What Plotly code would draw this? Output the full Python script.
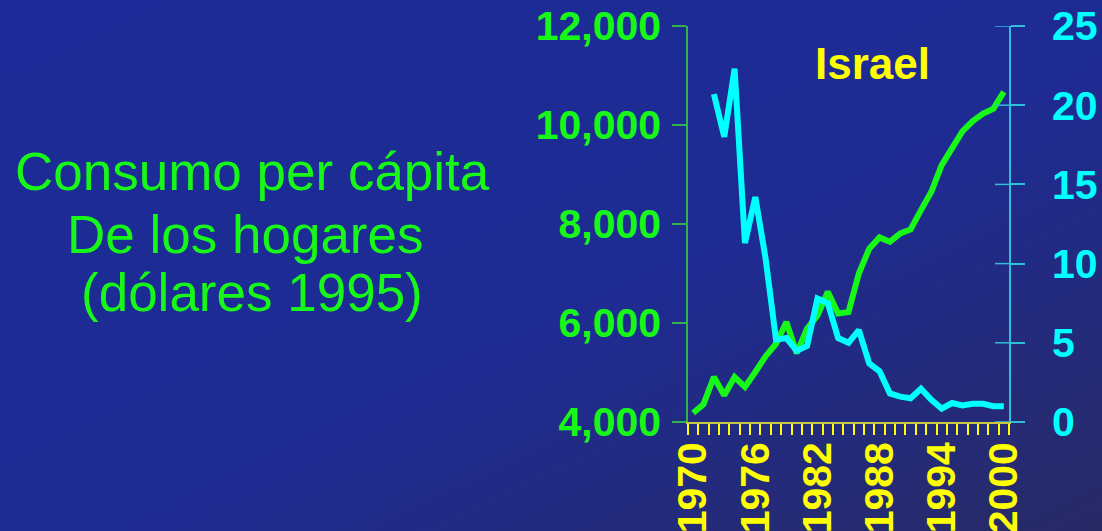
import base64
import plotly.graph_objects as go

# ---- data ----
years = list(range(1970, 2001))
consumo = [4180, 4360, 4910, 4540, 4910, 4710, 5010, 5330, 5580, 6020,
           5390, 5890, 6150, 6630, 6190, 6220, 7000, 7500, 7730, 7640,
           7810, 7890, 8280, 8650, 9190, 9520, 9870, 10080, 10230, 10330,
           10670]
years_inf = list(range(1972, 2001))
inflacion = [20.7, 18.0, 22.3, 11.3, 14.2, 10.3, 5.2, 5.3, 4.5, 4.8,
             7.8, 7.5, 5.3, 5.0, 5.8, 3.7, 3.2, 1.8, 1.6, 1.5,
             2.1, 1.4, 0.85, 1.2, 1.05, 1.15, 1.15, 1.0, 1.0]
left_ticks = [4000, 6000, 8000, 10000, 12000]
right_ticks = [0, 5, 10, 15, 20, 25]
year_labels = [1970, 1976, 1982, 1988, 1994, 2000]
year_bounds = [y - 0.5 for y in range(1970, 2002)]

title_lines = ["Consumo per cápita", "De los hogares", "(dólares 1995)"]
country = "Israel"

# ---- page geometry (pixels) ----
W, H = 1102, 531
L, R, T, B = 688, 1009, 26, 422
PW, PH = R - L, B - T


def px(xp):
    return (xp - L) / PW


def py(yp):
    return (B - yp) / PH


FONT = "Liberation Sans, Arial, sans-serif"
GREEN = "#18f818"
CYAN = "#00ffff"
YELLOW = "#ffff00"

# diagonal background gradient
svg = (
    '<svg xmlns="http://www.w3.org/2000/svg" width="1102" height="531" '
    'preserveAspectRatio="none">'
    '<defs><linearGradient id="g" x1="0" y1="0" x2="1" y2="1">'
    '<stop offset="0" stop-color="#1c2b98"/>'
    '<stop offset="0.55" stop-color="#1e2b93"/>'
    '<stop offset="1" stop-color="#282a66"/>'
    '</linearGradient></defs>'
    '<rect width="1102" height="531" fill="url(#g)"/></svg>'
)
bg_src = "data:image/svg+xml;base64," + base64.b64encode(svg.encode()).decode()

fig = go.Figure()
fig.add_trace(go.Scatter(x=years, y=consumo, mode="lines",
                         line=dict(color=GREEN, width=6),
                         yaxis="y", showlegend=False, hoverinfo="skip"))
fig.add_trace(go.Scatter(x=years_inf, y=inflacion, mode="lines",
                         line=dict(color=CYAN, width=6),
                         yaxis="y2", showlegend=False, hoverinfo="skip"))

# inner half of the crossing ticks on the right axis
shapes = []
for v in right_ticks:
    shapes.append(dict(type="line", xref="paper", yref="y2",
                       x0=1 - 14 / PW, x1=1, y0=v, y1=v,
                       line=dict(color="#2cc0d8", width=1.5)))

annotations = []
for text, cx, cy in zip(title_lines, [252, 245, 252], [171, 234, 292]):
    annotations.append(dict(text=text, xref="paper", yref="paper",
                            x=px(cx), y=py(cy), xanchor="center",
                            yanchor="middle", showarrow=False,
                            font=dict(family=FONT, size=53, color=GREEN)))
annotations.append(dict(text=country, xref="paper", yref="paper",
                        x=px(872), y=py(63), xanchor="center",
                        yanchor="middle", showarrow=False,
                        font=dict(family=FONT, size=44, color=YELLOW,
                                  weight="bold")))

fig.update_layout(
    width=W, height=H,
    margin=dict(l=L, r=W - R, t=T, b=H - B, pad=0, autoexpand=False),
    paper_bgcolor="#1e2b92",
    plot_bgcolor="rgba(0,0,0,0)",
    images=[dict(source=bg_src, xref="paper", yref="paper",
                 x=px(0), y=py(0), sizex=W / PW, sizey=H / PH,
                 xanchor="left", yanchor="top", sizing="stretch",
                 layer="below")],
    xaxis=dict(range=[1969.5, 2000.5], tickvals=year_labels,
               ticks="", showgrid=False, zeroline=False, automargin=False,
               showline=True, linecolor="#c8c848", linewidth=1.5,
               tickangle=-90, ticklabelstandoff=2,
               tickfont=dict(family=FONT, size=41, color=YELLOW,
                             weight="bold"),
               minor=dict(tickvals=year_bounds, ticks="outside",
                          ticklen=11, tickwidth=1.5, tickcolor=YELLOW)),
    yaxis=dict(range=[4000, 12000], tickvals=left_ticks, tickformat=",",
               ticks="outside", ticklen=14, tickwidth=1.5, automargin=False,
               tickcolor="#2fb34a", showline=True, linecolor="#2fb34a",
               linewidth=1.5, showgrid=False, zeroline=False,
               ticklabelstandoff=3,
               tickfont=dict(family=FONT, size=41, color=GREEN,
                             weight="bold")),
    yaxis2=dict(range=[0, 25], tickvals=right_ticks, overlaying="y",
                side="right", ticks="outside", ticklen=14, tickwidth=1.5,
                tickcolor="#2cc0d8", showline=True, linecolor="#2cc0d8",
                linewidth=1.5, showgrid=False, zeroline=False,
                automargin=False, ticklabelstandoff=19,
                tickfont=dict(family=FONT, size=41, color=CYAN,
                              weight="bold")),
    shapes=shapes,
    annotations=annotations,
)

fig.write_html("out.html")
